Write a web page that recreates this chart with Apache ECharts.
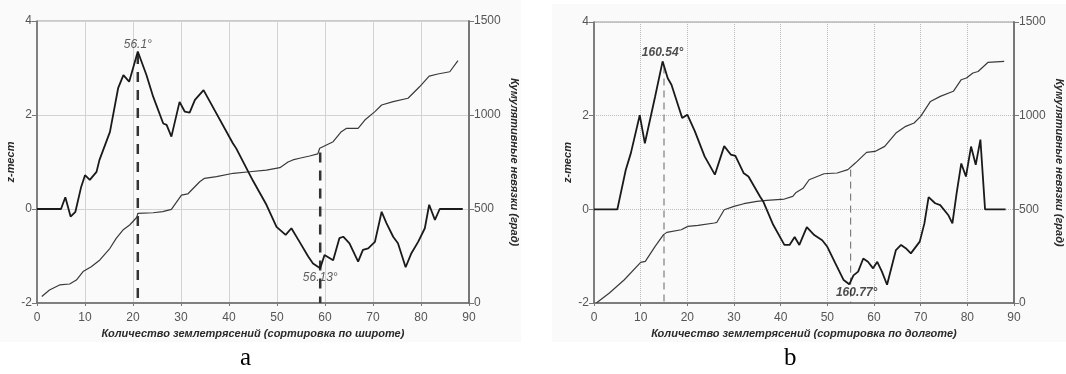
<!DOCTYPE html>
<html><head><meta charset="utf-8">
<script src="https://cdn.jsdelivr.net/npm/echarts@6/dist/echarts.min.js"></script>
<style>html,body{margin:0;padding:0;background:#fff}#c{width:1066px;height:374px}</style>
</head><body><div id="c"></div>
<script>
// Panel a: z-test (left axis) and cumulative residuals (right axis), sorted by latitude
var aZ = [[0,0],[5,0],[5.9,0.25],[7,-0.16],[8,-0.06],[9.2,0.47],[10,0.72],[11,0.62],[12.4,0.79],[13,1.04],[15.2,1.64],[16.9,2.57],[18,2.85],[19.2,2.71],[21,3.35],[22.8,2.85],[24.2,2.39],[26.3,1.82],[27,1.79],[28,1.54],[29.7,2.28],[30.8,2.07],[31.8,2.05],[32.9,2.32],[34.7,2.53],[40.8,1.40],[41.5,1.29],[45,0.6],[47.8,0.09],[49.9,-0.38],[51.8,-0.55],[53,-0.41],[54.7,-0.7],[56.5,-1.01],[57.5,-1.16],[59,-1.26],[59.9,-0.98],[61.7,-1.09],[63,-0.62],[63.8,-0.59],[65.1,-0.73],[66.9,-1.12],[67.9,-0.87],[69,-0.84],[70.4,-0.7],[71.8,-0.06],[72.8,-0.3],[74.2,-0.59],[75.2,-0.73],[76.8,-1.24],[78,-0.94],[79.4,-0.7],[80.8,-0.41],[81.7,0.09],[82.9,-0.23],[83.9,0],[88.7,0]];
var aCum = [[1,35],[2.6,69],[4.7,96],[6.8,101],[8.2,122],[9.6,167],[11.3,193],[13.1,229],[15.2,291],[16.5,344],[17.9,388],[19.3,415],[20.8,456],[21,477],[24.2,480],[26.2,486],[28,498],[30.1,574],[31.4,580],[33.9,645],[34.9,663],[37.4,672],[40.9,690],[44.3,698],[47.8,707],[50.6,720],[52.3,750],[53.3,761],[54.7,770],[56.8,782],[58.5,793],[58.9,823],[61.7,858],[63.4,911],[64.5,929],[66.9,929],[68.3,973],[70.4,1018],[71.8,1053],[74.2,1071],[77.3,1089],[79.7,1150],[81.7,1207],[83.5,1218],[86,1230],[87.7,1289]];
var aMarkX = [21, 59];
var aMarkTop = [3.3, 800];        // top of dashed line: z value (left axis), cumulative value (right axis)
var aLabels = ['56.1°', '56.13°'];
var aLabelPts = [[21, 3.35], [59, -1.26]];

// Panel b: sorted by longitude
var bZ = [[0,0],[5,0],[6.8,0.84],[7.9,1.2],[9.8,2.01],[10.9,1.41],[13.1,2.41],[14.7,3.16],[15.8,2.8],[16.6,2.66],[18.9,1.95],[20,2.02],[21.6,1.67],[23.7,1.13],[25.9,0.74],[27.9,1.35],[29.3,1.17],[30.3,1.14],[32.1,0.77],[33.1,0.7],[35.6,0.27],[36.3,0.16],[38.4,-0.33],[40.8,-0.76],[41.9,-0.76],[43,-0.59],[44,-0.76],[45.6,-0.38],[47.2,-0.55],[48.9,-0.66],[50,-0.8],[51.7,-1.15],[53.5,-1.51],[54.7,-1.6],[55.6,-1.41],[56.6,-1.33],[57.7,-1.05],[58.7,-1.12],[59.8,-1.26],[60.7,-1.12],[61.7,-1.33],[62.8,-1.61],[64.7,-0.87],[65.8,-0.76],[66.8,-0.83],[67.9,-0.94],[69.8,-0.69],[70.8,-0.3],[71.7,0.26],[73.1,0.13],[74.2,0.09],[75.9,-0.12],[76.8,-0.3],[77.7,0.34],[78.7,0.98],[79.7,0.7],[80.8,1.34],[81.8,0.95],[82.8,1.49],[83.8,0],[88.2,0]];
var bCum = [[0.5,0],[3.3,53],[6.5,124],[10,217],[11,222],[13.1,302],[14.9,365],[15.6,377],[18.7,391],[20.1,409],[22.3,414],[25.8,427],[26.3,430],[27.9,498],[30,516],[32.1,530],[34.9,542],[37,548],[40.8,555],[42.6,569],[43.3,590],[44.8,612],[46.1,658],[49.3,690],[52.1,694],[54.4,712],[56,747],[58.4,804],[60.2,809],[62.3,836],[64.7,907],[66.8,943],[68.6,961],[70,996],[72.1,1076],[74.2,1103],[77,1130],[78.7,1192],[79.8,1201],[81.2,1228],[82.3,1236],[84.4,1284],[87.9,1290]];
var bMarkX = [15, 55];
var bMarkTop = [3.05, 712];
var bLabels = ['160.54°', '160.77°'];
var bLabelPts = [[14.7, 3.16], [55, -1.6]];

var xTicks = [0, 10, 20, 30, 40, 50, 60, 70, 80, 90];
var zTicks = [-2, 0, 2, 4];
var cumTicks = [0, 500, 1000, 1500];
var xNameA = 'Количество землетрясений (сортировка по широте)';
var xNameB = 'Количество землетрясений (сортировка по долготе)';
var zName = 'z-тест';
var cumName = 'Кумулятивные невязки (град)';
var captions = ['a', 'b'];

var FONT = '"Liberation Sans", Arial, sans-serif';
var tickLbl = {color: '#555', fontSize: 12, fontFamily: FONT};
var nameStyle = {color: '#2a2a2a', fontSize: 11, fontStyle: 'italic', fontWeight: 'bold', fontFamily: FONT};
function plain(v) { return String(v); }

function xAxisFor(i, name, dotted) {
  return {type: 'value', gridIndex: i, min: 0, max: 90, interval: 10,
    name: name, nameLocation: 'middle', nameGap: 24, nameTextStyle: nameStyle,
    axisLine: {show: true, onZero: false, lineStyle: {color: '#666', width: 1.5}},
    axisTick: {show: true, length: 3, lineStyle: {color: '#777'}},
    axisLabel: Object.assign({margin: 9, formatter: plain}, tickLbl),
    splitLine: {show: true, lineStyle: {color: dotted ? '#bbb' : '#d3d3d3', width: 1, type: dotted ? 'dotted' : 'solid'}}
  };
}
function zAxisFor(i, dotted) {
  return {type: 'value', gridIndex: i, position: 'left', min: -2, max: 4, interval: 2,
    name: zName, nameLocation: 'middle', nameGap: 21, nameRotate: 90, nameTextStyle: nameStyle,
    axisLine: {show: true, onZero: false, lineStyle: {color: '#666', width: 1.5}},
    axisTick: {show: true, length: 5, lineStyle: {color: '#777'}},
    axisLabel: Object.assign({margin: 5, formatter: plain}, tickLbl),
    splitLine: {show: true, lineStyle: {color: dotted ? '#bbb' : '#d3d3d3', width: 1, type: dotted ? 'dotted' : 'solid'}}
  };
}
function cumAxisFor(i) {
  return {type: 'value', gridIndex: i, position: 'right', min: 0, max: 1500, interval: 500,
    name: cumName, nameLocation: 'middle', nameGap: 40, nameRotate: -90, nameTextStyle: nameStyle,
    axisLine: {show: true, onZero: false, lineStyle: {color: '#777', width: 2}},
    axisTick: {show: true, length: 5, lineStyle: {color: '#777'}},
    axisLabel: Object.assign({margin: 5, formatter: plain}, tickLbl),
    splitLine: {show: false}
  };
}
function vline(xi, yi, x, top, style) {
  return {type: 'line', xAxisIndex: xi, yAxisIndex: yi, data: [[x, top], [x, yi % 2 === 0 ? -2 : 0]],
    symbol: 'none', silent: true, lineStyle: style, z: 1};
}
function labelSeries(xi, yi, pts, texts, cfg) {
  return {type: 'scatter', xAxisIndex: xi, yAxisIndex: yi, symbolSize: 0, silent: true, z: 5,
    data: pts.map(function (p, k) {
      return {value: p, label: Object.assign({show: true, formatter: texts[k]}, cfg[k])};
    })};
}

var zLineStyle = {color: '#1a1a1a', width: 1.8};
var cumLineStyle = {color: '#3a3a3a', width: 1.2};
var dashA = {color: '#333', width: 2.5, type: [10, 8]};
var dashB = {color: '#666', width: 1, type: [7, 5]};

var chart = echarts.init(document.getElementById('c'), null, {renderer: 'canvas'});
chart.setOption({
  animation: false,
  backgroundColor: '#ffffff',
  graphic: [
    {type: 'rect', shape: {x: 0, y: 0, width: 521, height: 342}, style: {fill: '#fafafa'}, z: -10, silent: true},
    {type: 'rect', shape: {x: 552, y: 4, width: 514, height: 338}, style: {fill: '#fafafa'}, z: -10, silent: true},
    {type: 'text', left: 240, top: 346, style: {text: captions[0], font: '25px "Liberation Serif", "Times New Roman", serif', fill: '#000'}},
    {type: 'text', left: 784, top: 346, style: {text: captions[1], font: '25px "Liberation Serif", "Times New Roman", serif', fill: '#000'}}
  ],
  grid: [
    {left: 37, right: 597, top: 21, bottom: 71, show: true, borderColor: '#999', borderWidth: 1, backgroundColor: 'transparent'},
    {left: 594, right: 44, top: 22, bottom: 71, show: true, borderColor: '#999', borderWidth: 1, backgroundColor: 'transparent'}
  ],
  xAxis: [xAxisFor(0, xNameA, false), xAxisFor(1, xNameB, true)],
  yAxis: [zAxisFor(0, false), cumAxisFor(0), zAxisFor(1, true), cumAxisFor(1)],
  series: [
    {type: 'line', xAxisIndex: 0, yAxisIndex: 1, data: aCum, symbol: 'none', lineStyle: cumLineStyle, z: 2},
    {type: 'line', xAxisIndex: 0, yAxisIndex: 0, data: aZ, symbol: 'none', lineStyle: zLineStyle, z: 3},
    vline(0, 0, aMarkX[0], aMarkTop[0], dashA),
    vline(0, 1, aMarkX[1], aMarkTop[1], dashA),
    labelSeries(0, 0, aLabelPts, aLabels, [
      {position: 'top', distance: 1, color: '#333', fontSize: 12, fontStyle: 'italic', fontFamily: FONT},
      {position: 'bottom', distance: 3, color: '#333', fontSize: 12, fontStyle: 'italic', fontFamily: FONT}
    ]),
    {type: 'line', xAxisIndex: 1, yAxisIndex: 3, data: bCum, symbol: 'none', lineStyle: cumLineStyle, z: 2},
    {type: 'line', xAxisIndex: 1, yAxisIndex: 2, data: bZ, symbol: 'none', lineStyle: zLineStyle, z: 3},
    vline(1, 2, bMarkX[0], bMarkTop[0], dashB),
    vline(1, 3, bMarkX[1], bMarkTop[1], dashB),
    labelSeries(1, 2, bLabelPts, bLabels, [
      {position: 'top', distance: 3, color: '#222', fontSize: 12, fontStyle: 'italic', fontWeight: 'bold', fontFamily: FONT},
      {position: 'bottom', distance: 2, offset: [6, 0], color: '#222', fontSize: 12, fontStyle: 'italic', fontWeight: 'bold', fontFamily: FONT}
    ])
  ]
});
</script></body></html>
